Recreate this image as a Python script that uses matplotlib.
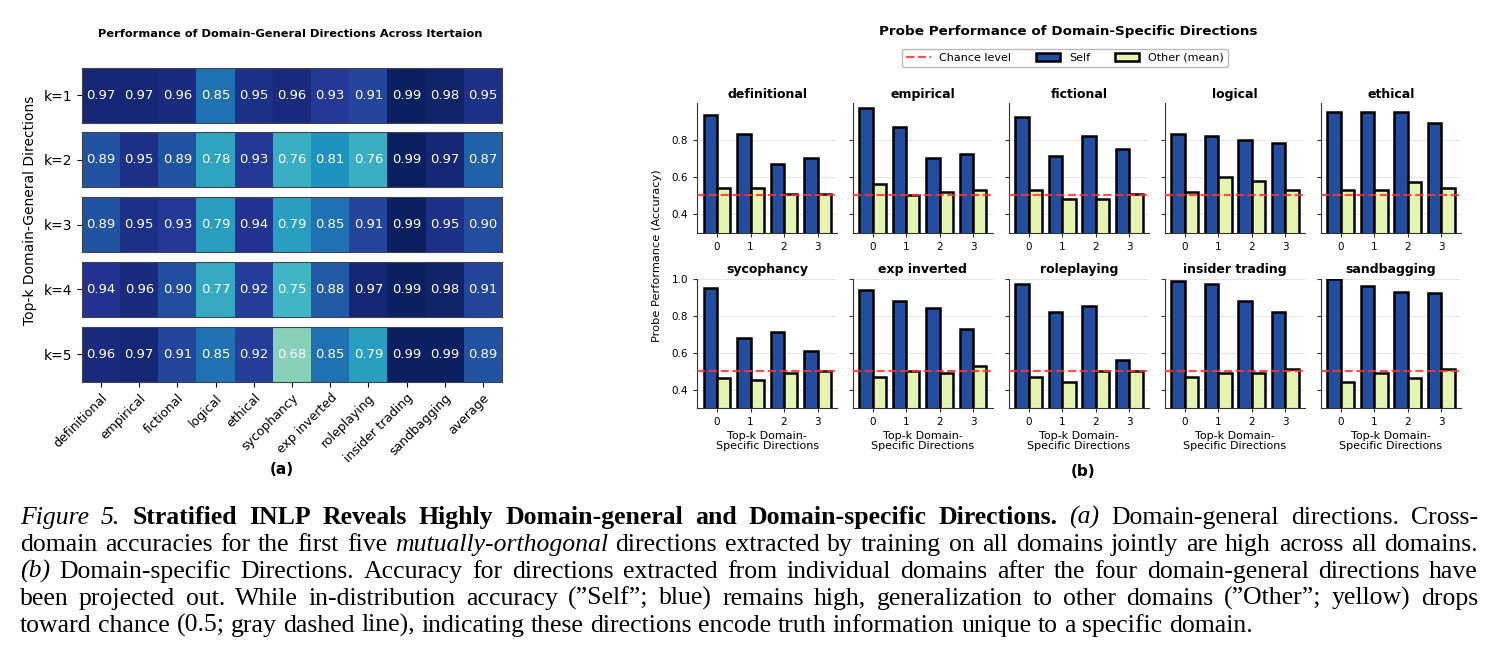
import numpy as np
import matplotlib.pyplot as plt
from matplotlib.lines import Line2D
from matplotlib.patches import Patch

# ---- data: (a) domain-general directions ----
general_cols = ['definitional', 'empirical', 'fictional', 'logical', 'ethical',
                'sycophancy', 'exp inverted', 'roleplaying', 'insider trading',
                'sandbagging', 'average']
k_labels = ['k=1', 'k=2', 'k=3', 'k=4', 'k=5']
general_acc = np.array([
    [0.97, 0.97, 0.96, 0.85, 0.95, 0.96, 0.93, 0.91, 0.99, 0.98, 0.95],
    [0.89, 0.95, 0.89, 0.78, 0.93, 0.76, 0.81, 0.76, 0.99, 0.97, 0.87],
    [0.89, 0.95, 0.93, 0.79, 0.94, 0.79, 0.85, 0.91, 0.99, 0.95, 0.90],
    [0.94, 0.96, 0.90, 0.77, 0.92, 0.75, 0.88, 0.97, 0.99, 0.98, 0.91],
    [0.96, 0.97, 0.91, 0.85, 0.92, 0.68, 0.85, 0.79, 0.99, 0.99, 0.89],
])

# ---- data: (b) domain-specific directions ----
domains = ['definitional', 'empirical', 'fictional', 'logical', 'ethical',
           'sycophancy', 'exp inverted', 'roleplaying', 'insider trading', 'sandbagging']
topk = [0, 1, 2, 3]
self_acc = {
    'definitional':    [0.93, 0.83, 0.67, 0.70],
    'empirical':       [0.97, 0.87, 0.70, 0.72],
    'fictional':       [0.92, 0.71, 0.82, 0.75],
    'logical':         [0.83, 0.82, 0.80, 0.78],
    'ethical':         [0.95, 0.95, 0.95, 0.89],
    'sycophancy':      [0.95, 0.68, 0.71, 0.61],
    'exp inverted':    [0.94, 0.88, 0.84, 0.73],
    'roleplaying':     [0.97, 0.82, 0.85, 0.56],
    'insider trading': [0.99, 0.97, 0.88, 0.82],
    'sandbagging':     [1.00, 0.96, 0.93, 0.92],
}
other_acc = {
    'definitional':    [0.54, 0.54, 0.51, 0.51],
    'empirical':       [0.56, 0.50, 0.52, 0.53],
    'fictional':       [0.53, 0.48, 0.48, 0.51],
    'logical':         [0.52, 0.60, 0.58, 0.53],
    'ethical':         [0.53, 0.53, 0.57, 0.54],
    'sycophancy':      [0.46, 0.45, 0.49, 0.50],
    'exp inverted':    [0.47, 0.50, 0.49, 0.53],
    'roleplaying':     [0.47, 0.44, 0.50, 0.50],
    'insider trading': [0.47, 0.49, 0.49, 0.51],
    'sandbagging':     [0.44, 0.49, 0.46, 0.51],
}
chance = 0.5

W, H = 1496, 664
fig = plt.figure(figsize=(W / 100, H / 100), dpi=100)


def box(x0, y0, w, h):
    # pixel box (top-left origin) -> figure fraction rect
    return [x0 / W, 1 - (y0 + h) / H, w / W, h / H]


# ---------------- (a) heatmap rows ----------------
for i in range(5):
    ax = fig.add_axes(box(82, 67.7 + 64.75 * i, 420, 55))
    ax.imshow(general_acc[i][None, :], cmap='YlGnBu', vmin=0.5, vmax=1.0, aspect='auto')
    for j, v in enumerate(general_acc[i]):
        ax.text(j, 0, f'{v:.2f}', ha='center', va='center', color='white', fontsize=9.5)
    ax.set_yticks([0])
    ax.set_yticklabels([k_labels[i]], fontsize=10)
    ax.set_xticks(range(len(general_cols)))
    if i == 4:
        ax.set_xticklabels(general_cols, rotation=45, ha='right', rotation_mode='anchor', fontsize=9)
    else:
        ax.tick_params(axis='x', bottom=False, labelbottom=False)
    for s in ax.spines.values():
        s.set_color('#444444')
        s.set_linewidth(0.8)

fig.text(290 / W, 1 - 34 / H, 'Performance of Domain-General Directions Across Itertaion',
         ha='center', va='center', fontsize=8.2, fontweight='bold')
fig.text(30 / W, 1 - 210 / H, 'Top-k Domain-General Directions', rotation=90,
         ha='center', va='center', fontsize=10)
fig.text(282 / W, 1 - 469 / H, '(a)', ha='center', va='center', fontsize=11, fontweight='bold')

# ---------------- (b) bar grid ----------------
self_c = '#234ea0'
other_c = '#e5f4b1'
lefts = [697.3, 852.8, 1009, 1165, 1321]
tops = [103.3, 278.7]
x = np.arange(len(topk))
for n, d in enumerate(domains):
    r, c = divmod(n, 5)
    ax = fig.add_axes(box(lefts[c], tops[r], 140, 129.3))
    ax.bar(x - 0.2, self_acc[d], 0.4, color=self_c, edgecolor='black', linewidth=1.8, zorder=2)
    ax.bar(x + 0.2, other_acc[d], 0.4, color=other_c, edgecolor='black', linewidth=1.8, zorder=2)
    ax.axhline(chance, color='#ff3333', ls='--', lw=1.6, alpha=0.85, zorder=3)
    ax.set_ylim(0.3, 0.995 if r == 0 else 1.0)
    ax.set_yticks([0.4, 0.6, 0.8] if r == 0 else [0.4, 0.6, 0.8, 1.0])
    ax.set_xticks(x)
    ax.set_xticklabels([str(t) for t in topk])
    ax.tick_params(labelsize=7.5, length=3, color='#333333')
    if c > 0:
        ax.tick_params(labelleft=False)
    ax.grid(axis='y', color='#e6e6e6', lw=0.7, zorder=0)
    ax.spines['top'].set_visible(False)
    ax.spines['right'].set_visible(False)
    for s in ('left', 'bottom'):
        ax.spines[s].set_color('#333333')
    ax.set_title(d, fontsize=9, fontweight='bold', pad=4)
    if r == 1:
        ax.set_xlabel('Top-k Domain-\nSpecific Directions', fontsize=8, labelpad=3, linespacing=1.0)

fig.text(657 / W, 1 - 256 / H, 'Probe Performance (Accuracy)', rotation=90,
         ha='center', va='center', fontsize=8.2)
fig.text(1068 / W, 1 - 32 / H, 'Probe Performance of Domain-Specific Directions',
         ha='center', va='center', fontsize=9.7, fontweight='bold')
handles = [Line2D([0], [0], color='#ff3333', ls='--', lw=1.6, alpha=0.85),
           Patch(facecolor=self_c, edgecolor='black', linewidth=1.8),
           Patch(facecolor=other_c, edgecolor='black', linewidth=1.8)]
fig.legend(handles, ['Chance level', 'Self', 'Other (mean)'], loc='center',
           bbox_to_anchor=(1065 / W, 1 - 58 / H), ncol=3, fontsize=8,
           frameon=True, edgecolor='#aaaaaa', columnspacing=2.2, handlelength=2.2)
fig.text(1083 / W, 1 - 472 / H, '(b)', ha='center', va='center', fontsize=11, fontweight='bold')

# ---------------- caption ----------------
cap_fs = 18.5
serif = 'Liberation Serif'
styles = {'n': {}, 'b': {'fontweight': 'bold'}, 'i': {'fontstyle': 'italic'}}
renderer = fig.canvas.get_renderer()

t1 = fig.text(0, 0, 'a a', fontsize=cap_fs, family=serif)
t2 = fig.text(0, 0, 'aa', fontsize=cap_fs, family=serif)
space_w = t1.get_window_extent(renderer).width - t2.get_window_extent(renderer).width
t1.remove()
t2.remove()


def caption_line(y_px, runs, justify=True, x0=20, x1=1478):
    words = []
    for txt, st in runs:
        words += [(w, st) for w in txt.split()]
    arts = [fig.text(0, 1 - y_px / H, w, fontsize=cap_fs, family=serif,
                     ha='left', va='baseline', **styles[st]) for w, st in words]
    widths = [a.get_window_extent(renderer).width for a in arts]
    gap = (x1 - x0 - sum(widths)) / (len(arts) - 1) if justify else space_w
    xx = x0
    for a, w in zip(arts, widths):
        a.set_x(xx / W)
        xx += w + gap


caption = [
    [('Figure 5.', 'i'), ('Stratified INLP Reveals Highly Domain-general and Domain-specific Directions.', 'b'),
     ('(a)', 'i'), ('Domain-general directions. Cross-', 'n')],
    [('domain accuracies for the first five', 'n'), ('mutually-orthogonal', 'i'),
     ('directions extracted by training on all domains jointly are high across all domains.', 'n')],
    [('(b)', 'i'), ('Domain-specific Directions. Accuracy for directions extracted from individual '
                    'domains after the four domain-general directions have', 'n')],
    [('been projected out. While in-distribution accuracy (\u201dSelf\u201d; blue) remains high, '
      'generalization to other domains (\u201dOther\u201d; yellow) drops', 'n')],
    [('toward chance (0.5; gray dashed line), indicating these directions encode truth '
      'information unique to a specific domain.', 'n')],
]
baselines = [524, 551, 578, 605, 632]
for k, (yb, runs) in enumerate(zip(baselines, caption)):
    caption_line(yb, runs, justify=(k < len(caption) - 1))

fig.savefig('out.png', dpi=100)
